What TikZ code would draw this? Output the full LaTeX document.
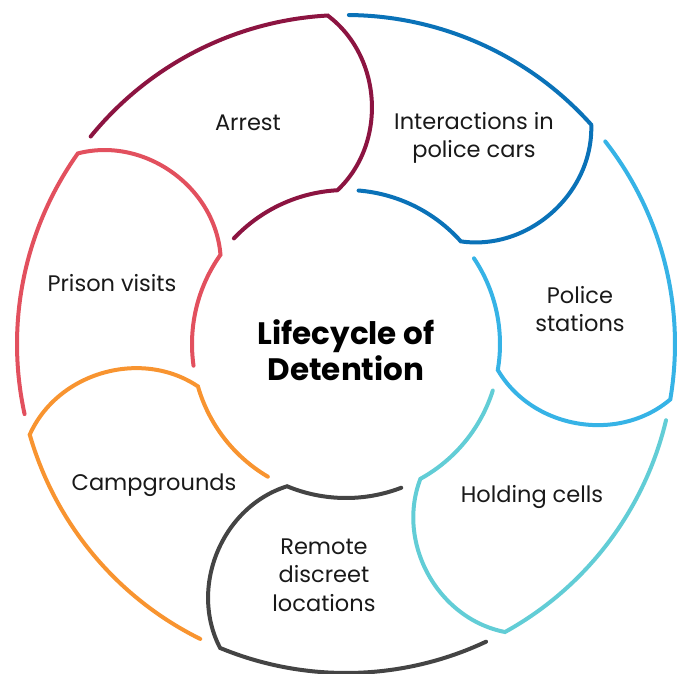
\documentclass[tikz,border=0pt]{standalone}
\usepackage{fontspec}
\setmainfont{Poppins}
\usepackage{xcolor}
\usepackage{tikz}

\definecolor{arrestred}{RGB}{140,20,65}
\definecolor{carblue}{RGB}{10,114,184}
\definecolor{stationblue}{RGB}{54,179,230}
\definecolor{cellcyan}{RGB}{98,205,214}
\definecolor{remotegray}{RGB}{68,68,68}
\definecolor{camporange}{RGB}{248,148,48}
\definecolor{prisonpink}{RGB}{226,80,94}

\begin{document}
\begin{tikzpicture}[x=1pt,y=1pt,
	petal/.style={line width=4pt, line cap=round},
	stagetext/.style={align=center, text=black!90, font=\fontsize{22.5}{28.5}\selectfont},
	hubtext/.style={align=center, text=black, font=\fontsize{31}{35.5}\selectfont\bfseries}]
	\useasboundingbox (-346,-329) rectangle (335,344);
		\draw[petal, arrestred] (140.9:329) arc[start angle=140.9, end angle=93.2, radius=329]
			to[bend left=50] (93.2:154) arc[start angle=93.2, end angle=136.7, radius=154];
		\draw[petal, carblue] (89.5:329) arc[start angle=89.5, end angle=41.8, radius=329]
			to[bend left=50] (41.8:154) arc[start angle=41.8, end angle=85.3, radius=154];
		\draw[petal, stationblue] (38.0:329) arc[start angle=38.0, end angle=-9.7, radius=329]
			to[bend left=50] (-9.7:154) arc[start angle=-9.7, end angle=33.8, radius=154];
		\draw[petal, cellcyan] (-13.4:329) arc[start angle=-13.4, end angle=-61.1, radius=329]
			to[bend left=50] (-61.1:154) arc[start angle=-61.1, end angle=-17.6, radius=154];
		\draw[petal, remotegray] (-64.8:329) arc[start angle=-64.8, end angle=-112.5, radius=329]
			to[bend left=50] (-112.5:154) arc[start angle=-112.5, end angle=-69.0, radius=154];
		\draw[petal, camporange] (-116.3:329) arc[start angle=-116.3, end angle=-164.0, radius=329]
			to[bend left=50] (-164.0:154) arc[start angle=-164.0, end angle=-120.5, radius=154];
		\draw[petal, prisonpink] (-167.7:329) arc[start angle=-167.7, end angle=-215.4, radius=329]
			to[bend left=50] (-215.4:154) arc[start angle=-215.4, end angle=-171.9, radius=154];
		\node[hubtext] (hub) at (0,-6) {Lifecycle of\\Detention};
		\node[stagetext] (arrest) at (-98,221) {Arrest};
		\node[stagetext] (cars) at (128,206) {Interactions in\\police cars};
		\node[stagetext] (stations) at (234,35) {Police\\stations};
		\node[stagetext] (cells) at (186,-153) {Holding cells};
		\node[stagetext] (remote) at (-22,-231) {Remote\\discreet\\locations};
		\node[stagetext] (camps) at (-192,-141) {Campgrounds};
		\node[stagetext] (prison) at (-234,61) {Prison visits};
	\end{tikzpicture}
\end{document}
